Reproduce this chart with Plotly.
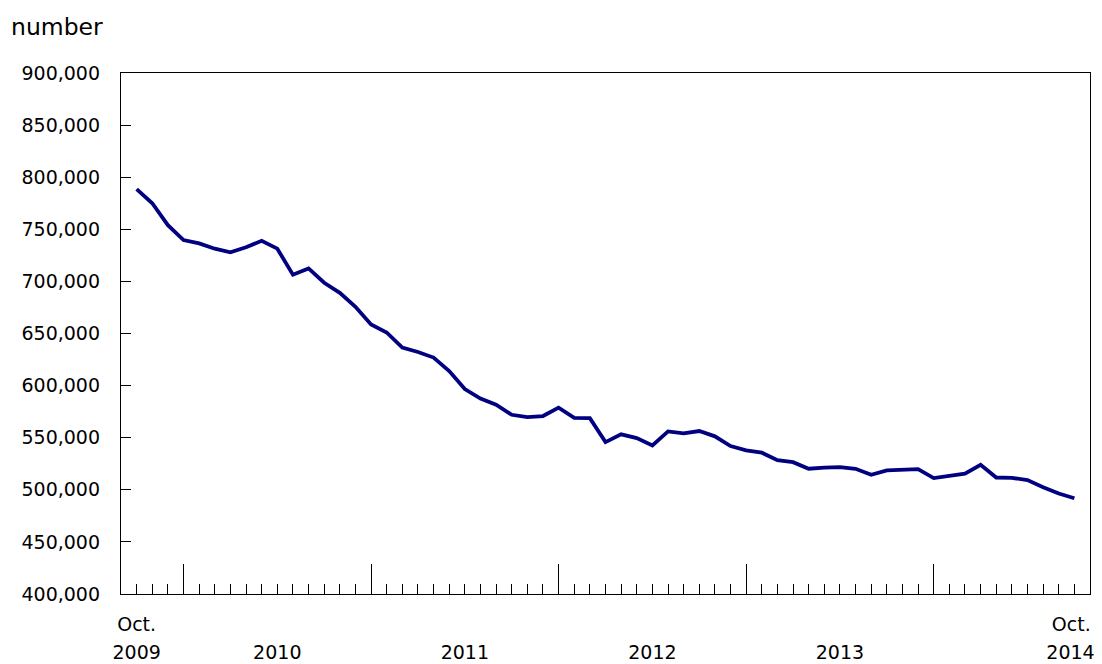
import plotly.graph_objects as go
import pandas as pd

# Monthly data, October 2009 to October 2014
months = pd.date_range("2009-10-01", "2014-10-01", freq="MS").strftime("%b %Y").tolist()
values = [
    788500, 775000, 754000, 739700, 736500, 731400, 727900, 732700, 739000, 731400,
    706400, 712500, 698700, 689000, 675600, 658600, 651000, 636500, 632300, 626900,
    614000, 596700, 587500, 581700, 572000, 569800, 570800, 578800, 569100, 568800,
    545800, 553200, 549600, 542600, 556000, 554100, 556400, 551300, 542000, 537800,
    535600, 528500, 526500, 520200, 521200, 521800, 520200, 514400, 518600, 519500,
    519800, 511200, 513500, 515400, 524000, 511800, 511500, 509300, 502500, 496400,
    491900,
]
x_idx = list(range(len(values)))
last = x_idx[-1]

year_tick_pos = [3, 15, 27, 39, 51]          # January of each year
year_labels = ["2009", "2010", "2011", "2012", "2013", "2014"]
month_labels = ["Oct.", "Oct."]
y_ticks = list(range(400000, 900001, 50000))

# label placement (layout only)
year_label_pos = [0] + [p + 6 for p in year_tick_pos[:-1]] + [last - 0.25]
month_label_pos = [0, last - 0.2]

FONT = "DejaVu Sans"
FS = 19
TXT = "#000000"

fig = go.Figure()
fig.add_trace(go.Scatter(
    x=x_idx, y=values, mode="lines",
    line=dict(color="#000080", width=3.8),
    text=months, hovertemplate="%{text}: %{y:,}<extra></extra>",
    showlegend=False,
))
# invisible traces to host the label axes
for ax in ("x2", "x3"):
    fig.add_trace(go.Scatter(x=[x_idx[0]], y=[values[0]], xaxis=ax, mode="markers",
                             marker=dict(opacity=0), showlegend=False, hoverinfo="skip"))

xrange = [-1, len(values)]

fig.update_layout(
    template="none",
    width=1102, height=664,
    margin=dict(l=121, r=12, t=73, b=70, autoexpand=False),
    paper_bgcolor="white", plot_bgcolor="white",
    font=dict(family=FONT, size=FS, color=TXT),
    hovermode="closest",
    xaxis=dict(
        range=xrange, showgrid=False, zeroline=False, automargin=False,
        showline=True, linecolor="black", linewidth=1.3, mirror=True,
        tickmode="array", tickvals=year_tick_pos, showticklabels=False,
        ticks="inside", ticklen=30, tickwidth=1.3, tickcolor="black",
        minor=dict(ticks="inside", ticklen=10, tickwidth=1.3, tickcolor="black",
                   dtick=1, tick0=0, showgrid=False),
    ),
    xaxis2=dict(
        overlaying="x", matches="x", anchor="y", side="bottom", automargin=False,
        showgrid=False, zeroline=False, showline=False,
        tickmode="array", tickvals=month_label_pos, ticktext=month_labels,
        ticks="", ticklabelstandoff=17,
        tickfont=dict(family=FONT, size=FS, color=TXT),
    ),
    xaxis3=dict(
        overlaying="x", matches="x", anchor="y", side="bottom", automargin=False,
        showgrid=False, zeroline=False, showline=False,
        tickmode="array", tickvals=year_label_pos, ticktext=year_labels,
        ticks="", ticklabelstandoff=45,
        tickfont=dict(family=FONT, size=FS, color=TXT),
    ),
    yaxis=dict(
        range=[400000, 900000], tickmode="array", tickvals=y_ticks,
        tickformat=",", showgrid=False, zeroline=False, automargin=False,
        showline=True, linecolor="black", linewidth=1.3, mirror=True,
        ticks="inside", ticklen=10, tickwidth=1.3, tickcolor="black",
        ticklabelstandoff=16,
        tickfont=dict(family=FONT, size=FS, color=TXT),
    ),
    annotations=[dict(
        text="number", xref="paper", yref="paper",
        x=-112 / 969, y=(594 - 27) / 521, xanchor="left", yanchor="middle",
        showarrow=False, font=dict(family=FONT, size=23.5, color=TXT),
    )],
)

fig.write_html(
    "out.html",
    config={"displayModeBar": False},
    post_script="document.body.style.margin='0';document.body.style.overflow='hidden';",
)
